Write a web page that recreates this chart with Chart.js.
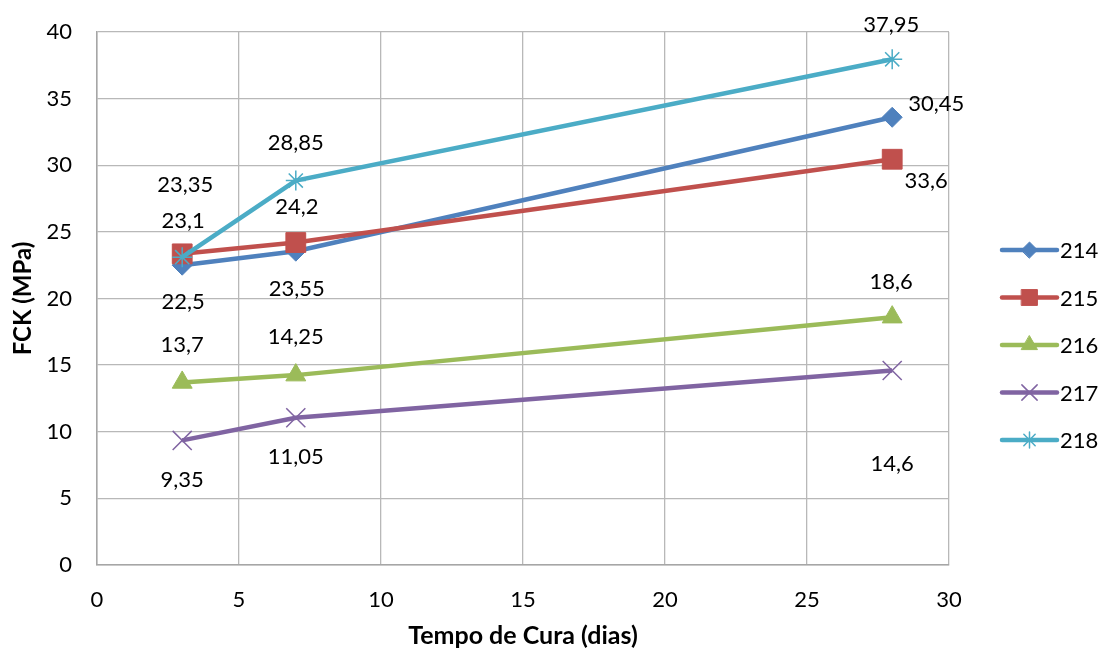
<!DOCTYPE html>
<html>
<head>
<meta charset="utf-8">
<script src="https://cdn.jsdelivr.net/npm/chart.js@4/dist/chart.umd.min.js"></script>
<style>
  html, body { margin: 0; padding: 0; background: #fff; }
  #wrap { width: 1102px; height: 652px; }
</style>
</head>
<body>
<div id="wrap"><canvas id="fckChart" width="1102" height="652"></canvas></div>
<script>
// Data
const dias = [3, 7, 28];
const nomes = ["214", "215", "216", "217", "218"];
const fck214 = [22.5, 23.55, 33.6];
const fck215 = [23.35, 24.2, 30.45];
const fck216 = [13.7, 14.25, 18.6];
const fck217 = [9.35, 11.05, 14.6];
const fck218 = [23.1, 28.85, 37.95];
const series = [fck214, fck215, fck216, fck217, fck218];

// Styles
const cores = ["#4F81BD", "#C0504D", "#9BBB59", "#8064A2", "#4BACC6"];
const marcadores = ["rectRot", "rect", "triangle", "crossRot", "star"];
const raios = [10, 14, 11.5, 13.5, 10];
const bordas = [1, 1, 1, 1.5, 1.5];
// label offsets (dx, dy) from each point, as placed in the original
const offsets = [
    [[1, 37], [1, 38], [34, 64]],
    [[3, -69], [1, -36], [44, -55]],
    [[0, -38], [0, -38], [-1, -35]],
    [[0, 39], [0, 39], [0, 93]],
    [[1, -36], [0, -38], [-1, -34]]
];

const fonte = "Lato, 'Open Sans', sans-serif";

// Data labels with comma decimal
const rotulos = {
    id: "rotulos",
    afterDatasetsDraw(chart) {
        const ctx = chart.ctx;
        ctx.save();
        ctx.font = "22px " + fonte;
        ctx.fillStyle = "#000";
        ctx.textAlign = "center";
        ctx.textBaseline = "middle";
        chart.data.datasets.forEach((ds, i) => {
            const meta = chart.getDatasetMeta(i);
            meta.data.forEach((pt, j) => {
                const txt = String(series[i][j]).replace(".", ",");
                ctx.fillText(txt, pt.x + offsets[i][j][0], pt.y + offsets[i][j][1]);
            });
        });
        ctx.restore();
    }
};

// Excel-like legend: line with marker in the middle
const legenda = {
    id: "legenda",
    afterDraw(chart) {
        const ctx = chart.ctx;
        const x0 = 1002, x1 = 1057, yStart = 250, step = 47.5;
        ctx.save();
        nomes.forEach((nome, i) => {
            const y = yStart + i * step;
            ctx.strokeStyle = cores[i];
            ctx.lineWidth = 4.5;
            ctx.lineCap = "round";
            ctx.beginPath();
            ctx.moveTo(x0, y);
            ctx.lineTo(x1, y);
            ctx.stroke();
            ctx.fillStyle = cores[i];
            ctx.lineWidth = bordas[i];
            Chart.helpers.drawPoint(ctx, {
                pointStyle: marcadores[i],
                radius: raios[i] * 0.8,
                borderWidth: bordas[i],
                rotation: 0
            }, (x0 + x1) / 2, y);
            ctx.fillStyle = "#000";
            ctx.font = "22px " + fonte;
            ctx.textAlign = "left";
            ctx.textBaseline = "middle";
            ctx.fillText(nome, x1 + 3, y + 1);
        });
        ctx.restore();
    }
};

const datasets = series.map((vals, i) => ({
    label: nomes[i],
    data: vals.map((v, j) => ({ x: dias[j], y: v })),
    borderColor: cores[i],
    backgroundColor: cores[i],
    borderWidth: 4.5,
    pointStyle: marcadores[i],
    pointRadius: raios[i],
    pointHoverRadius: raios[i],
    pointBackgroundColor: cores[i],
    pointBorderColor: cores[i],
    pointBorderWidth: bordas[i],
    tension: 0,
    order: series.length - i
}));

new Chart(document.getElementById("fckChart"), {
    type: "line",
    data: { datasets: datasets },
    options: {
        responsive: false,
        animation: false,
        layout: { padding: { top: 32, right: 153, bottom: 0, left: 0 } },
        plugins: {
            legend: { display: false },
            tooltip: { enabled: false }
        },
        scales: {
            x: {
                type: "linear",
                min: 0,
                max: 30,
                afterFit: (s) => { s.height = 87; },
                ticks: { stepSize: 5, padding: 22, color: "#000", font: { family: fonte, size: 22 } },
                grid: { color: "#b8b8b8", lineWidth: 1.3, drawTicks: false },
                border: { color: "#a6a6a6", width: 1.5 },
                title: {
                    display: true,
                    text: "Tempo de Cura (dias)",
                    color: "#000",
                    font: { family: fonte, size: 25, weight: "bold" },
                    padding: { top: 0, bottom: 1 }
                }
            },
            y: {
                min: 0,
                max: 40,
                afterFit: (s) => { s.width = 97; s.paddingTop = 0; s.paddingBottom = 0; },
                ticks: { stepSize: 5, padding: 25, color: "#000", font: { family: fonte, size: 22 } },
                grid: { color: "#b8b8b8", lineWidth: 1.3, drawTicks: false },
                border: { color: "#a6a6a6", width: 1.5 },
                title: {
                    display: true,
                    text: "FCK (MPa)",
                    color: "#000",
                    font: { family: fonte, size: 24, weight: "bold" },
                    padding: { top: 9, bottom: 0 }
                }
            }
        }
    },
    plugins: [rotulos, legenda]
});
</script>
</body>
</html>
